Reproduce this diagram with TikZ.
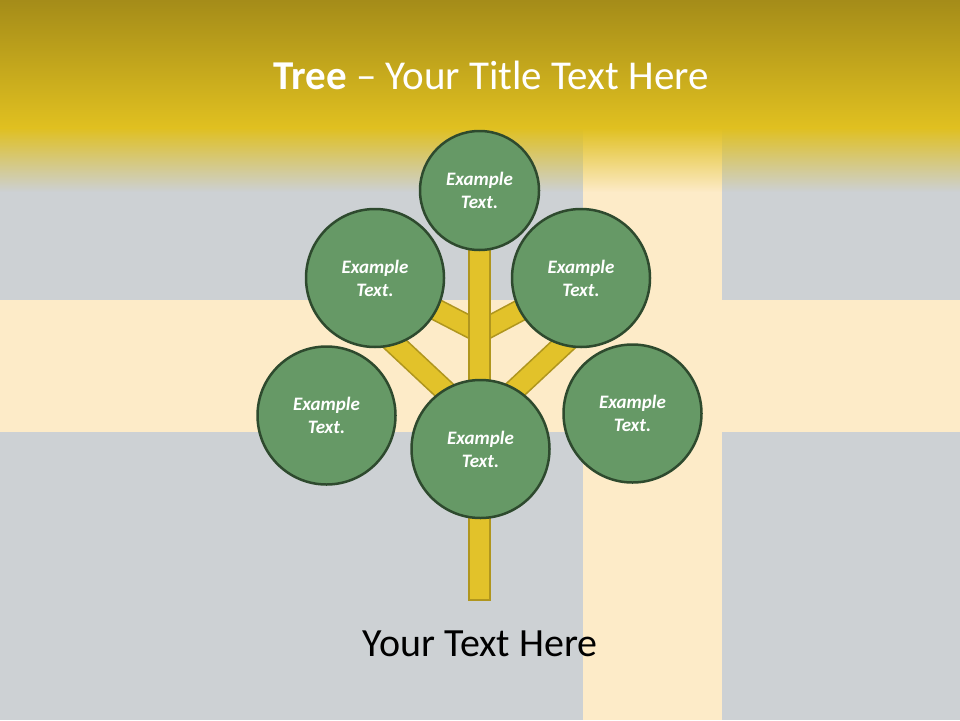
\documentclass[tikz,border=0pt]{standalone}
\usepackage{fontspec}
\setmainfont{Carlito}
\usetikzlibrary{calc,fadings}
\definecolor{bggray}{HTML}{CDD1D4}
\definecolor{cream}{HTML}{FDEBC8}
\definecolor{goldtop}{HTML}{A08818}
\definecolor{goldbot}{HTML}{E0C020}
\definecolor{leaf}{HTML}{669966}
\definecolor{leafline}{HTML}{2E4A2E}
\definecolor{wood}{HTML}{E2C22A}
\definecolor{woodline}{HTML}{B0961E}
\tikzfading[name=fadedown, top color=transparent!0, bottom color=transparent!100]
\newcommand\branchbar[2]{\draw[woodstyle] ($(#1)!10.5pt!90:(#2)$) -- ($(#2)!10.5pt!-90:(#1)$) -- ($(#2)!10.5pt!90:(#1)$) -- ($(#1)!10.5pt!-90:(#2)$) -- cycle;}
\begin{document}
\begin{tikzpicture}[x=1pt,y=-1pt,
  leafnode/.style={circle,draw=leafline,line width=2.5pt,fill=leaf,text=white,
    font=\fontsize{19}{23}\selectfont\bfseries\itshape,align=center,inner sep=0pt,minimum size=138pt},
  woodstyle/.style={draw=woodline,fill=wood,line width=1.5pt,line join=miter}]
\useasboundingbox (0,0) rectangle (960,720);
% background
\fill[bggray] (0,0) rectangle (960,720);
\fill[cream] (0,300) rectangle (960,432);
\fill[cream] (583,0) rectangle (722,720);
% title band
\shade[top color=goldtop,bottom color=goldbot] (-10,-10) rectangle (970,128);
\fill[goldbot,path fading=fadedown] (-10,127.5) rectangle (970,192);
\node[text=white,font=\fontsize{41}{45}\selectfont] (title) at (491,75) {\textbf{Tree} – Your Title Text Here};
% junction coordinates
\coordinate (jup) at (479.5,332);
\coordinate (jlow) at (479.5,423);
\coordinate (ll) at (380,330);
\coordinate (lr) at (579,330);
% circles positions
\coordinate (cul) at (375,278);
\coordinate (cur) at (581,278);
% branches
\branchbar{jup}{cul}
\branchbar{jup}{cur}
\branchbar{jlow}{ll}
\branchbar{jlow}{lr}
% trunk
\draw[woodstyle] (469,245) rectangle (490,600);
% leaves
\node[leafnode,minimum size=119pt] (top) at (479.5,190.5) {Example\\Text.};
\node[leafnode] (ul) at (cul) {Example\\Text.};
\node[leafnode] (ur) at (cur) {Example\\Text.};
\node[leafnode] (lleft) at (326.5,415.5) {Example\\Text.};
\node[leafnode] (center) at (480.5,449) {Example\\Text.};
\node[leafnode] (lright) at (632.5,413.5) {Example\\Text.};
% bottom text
\node[text=black,font=\fontsize{40}{44}\selectfont] (bottom) at (480,644) {Your Text Here};
\end{tikzpicture}
\end{document}
